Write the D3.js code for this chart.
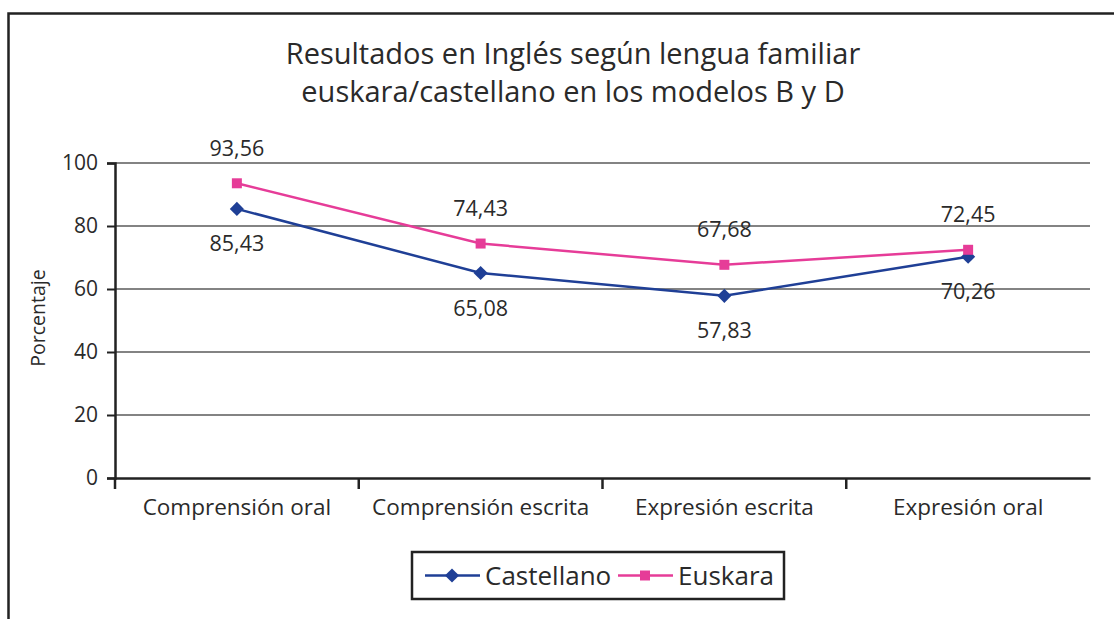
<!DOCTYPE html>
<html>
<head>
<meta charset="utf-8">
<script src="https://cdn.jsdelivr.net/npm/d3@7"></script>
<style>
  body { margin: 0; background: #fff; }
  text { font-family: "Open Sans", sans-serif; fill: #2a2a2a; }
</style>
</head>
<body>
<script>
'use strict'
const categories = ["Comprensión oral", "Comprensión escrita", "Expresión escrita", "Expresión oral"];
const castellano = [85.43, 65.08, 57.83, 70.26];
const euskara = [93.56, 74.43, 67.68, 72.45];
const yTicks = [0, 20, 40, 60, 80, 100];
const titleLines = ["Resultados en Inglés según lengua familiar", "euskara/castellano en los modelos B y D"];

const w = 1114;
const h = 619;
const plotLeft = 115, plotRight = 1090, plotTop = 163, plotBottom = 478;
const font = "'Open Sans', sans-serif";

const svg = d3.select("body")
	.append("svg")
	.attr("width", w)
	.attr("height", h);

// outer frame (only top and left visible)
svg.append("path")
	.attr("d", "M8.5,619 V13.5 H1114")
	.attr("fill", "none")
	.attr("stroke", "#222")
	.attr("stroke-width", 2.5);

svg.selectAll("text.title")
	.data(titleLines)
	.enter()
	.append("text")
	.attr("class", "title")
	.attr("x", 573)
	.attr("y", (d, i) => 64 + i * 38)
	.attr("text-anchor", "middle")
	.style("font-size", "29px")
	.text((d) => d);

const xScale = d3.scaleBand()
	.domain(categories)
	.range([plotLeft, plotRight]);

const yScale = d3.scaleLinear()
	.domain([0, 100])
	.range([plotBottom, plotTop]);

// gridlines
svg.selectAll("line.grid")
	.data(yTicks.filter((d) => d > 0))
	.enter()
	.append("line")
	.attr("x1", plotLeft)
	.attr("x2", plotRight)
	.attr("y1", (d) => yScale(d))
	.attr("y2", (d) => yScale(d))
	.attr("stroke", "#5a5a5a")
	.attr("stroke-width", 1.3);

const yAxis = d3.axisLeft(yScale)
	.tickValues(yTicks)
	.tickSize(8)
	.tickPadding(9);

const gy = svg.append("g")
	.attr("id", "y-axis")
	.attr("transform", "translate(" + plotLeft + ",0)")
	.call(yAxis);
gy.select(".domain").attr("stroke", "#222").attr("stroke-width", 2.5);
gy.selectAll(".tick line").attr("stroke", "#222").attr("stroke-width", 2);
gy.selectAll(".tick text").style("font-size", "21px").style("font-family", font).attr("fill", "#2a2a2a");

// x axis with ticks between categories
const xAxis = d3.axisBottom(xScale).tickSize(0).tickPadding(21);
const gx = svg.append("g")
	.attr("id", "x-axis")
	.attr("transform", "translate(0," + plotBottom + ")")
	.call(xAxis);
gx.select(".domain").attr("stroke", "#222").attr("stroke-width", 2.5);
gx.selectAll(".tick text").style("font-size", "22.5px").style("font-family", font).attr("fill", "#2a2a2a");
gx.selectAll("line.sep")
	.data(categories)
	.enter()
	.append("line")
	.attr("class", "sep")
	.attr("x1", (d) => xScale(d))
	.attr("x2", (d) => xScale(d))
	.attr("y1", 0)
	.attr("y2", 11)
	.attr("stroke", "#222")
	.attr("stroke-width", 2.5);

svg.append("text")
	.attr("transform", "translate(45,318) rotate(-90)")
	.attr("text-anchor", "middle")
	.style("font-size", "19.5px")
	.text("Porcentaje");

const cx = (i) => xScale(categories[i]) + xScale.bandwidth() / 2;
const line = d3.line().x((d, i) => cx(i)).y((d) => yScale(d));
const fmt = (v) => d3.format(".2f")(v).replace(".", ",");

const series = [
	{ name: "Castellano", values: castellano, color: "#1f3f96", rotate: 45, offset: 35 },
	{ name: "Euskara", values: euskara, color: "#e63c98", rotate: 0, offset: -35 }
];
const marker = d3.symbol().type(d3.symbolSquare).size(100);

series.forEach((s) => {
	svg.append("path")
		.datum(s.values)
		.attr("fill", "none")
		.attr("stroke", s.color)
		.attr("stroke-width", 2.5)
		.attr("d", line);

	svg.selectAll(null)
		.data(s.values)
		.enter()
		.append("path")
		.attr("transform", (d, i) => "translate(" + cx(i) + "," + yScale(d) + ") rotate(" + s.rotate + ")")
		.attr("d", marker)
		.attr("fill", s.color);

	svg.selectAll(null)
		.data(s.values)
		.enter()
		.append("text")
		.attr("x", (d, i) => cx(i))
		.attr("y", (d) => yScale(d) + s.offset)
		.attr("dy", "0.35em")
		.attr("text-anchor", "middle")
		.style("font-size", "21.5px")
		.text((d) => fmt(d));
});

// legend
const legend = svg.append("g").attr("transform", "translate(412,552)");
legend.append("rect")
	.attr("width", 372)
	.attr("height", 47)
	.attr("fill", "#fff")
	.attr("stroke", "#222")
	.attr("stroke-width", 2.5);

const legendX = [13, 206];
series.forEach((s, i) => {
	const g = legend.append("g").attr("transform", "translate(" + legendX[i] + ",23.5)");
	g.append("line")
		.attr("x1", 0).attr("x2", 55)
		.attr("stroke", s.color)
		.attr("stroke-width", 2.5);
	g.append("path")
		.attr("transform", "translate(27,0) rotate(" + s.rotate + ")")
		.attr("d", marker)
		.attr("fill", s.color);
	g.append("text")
		.attr("x", 60)
		.attr("dy", "0.35em")
		.style("font-size", "26px")
		.text(s.name);
});
</script>
</body>
</html>
